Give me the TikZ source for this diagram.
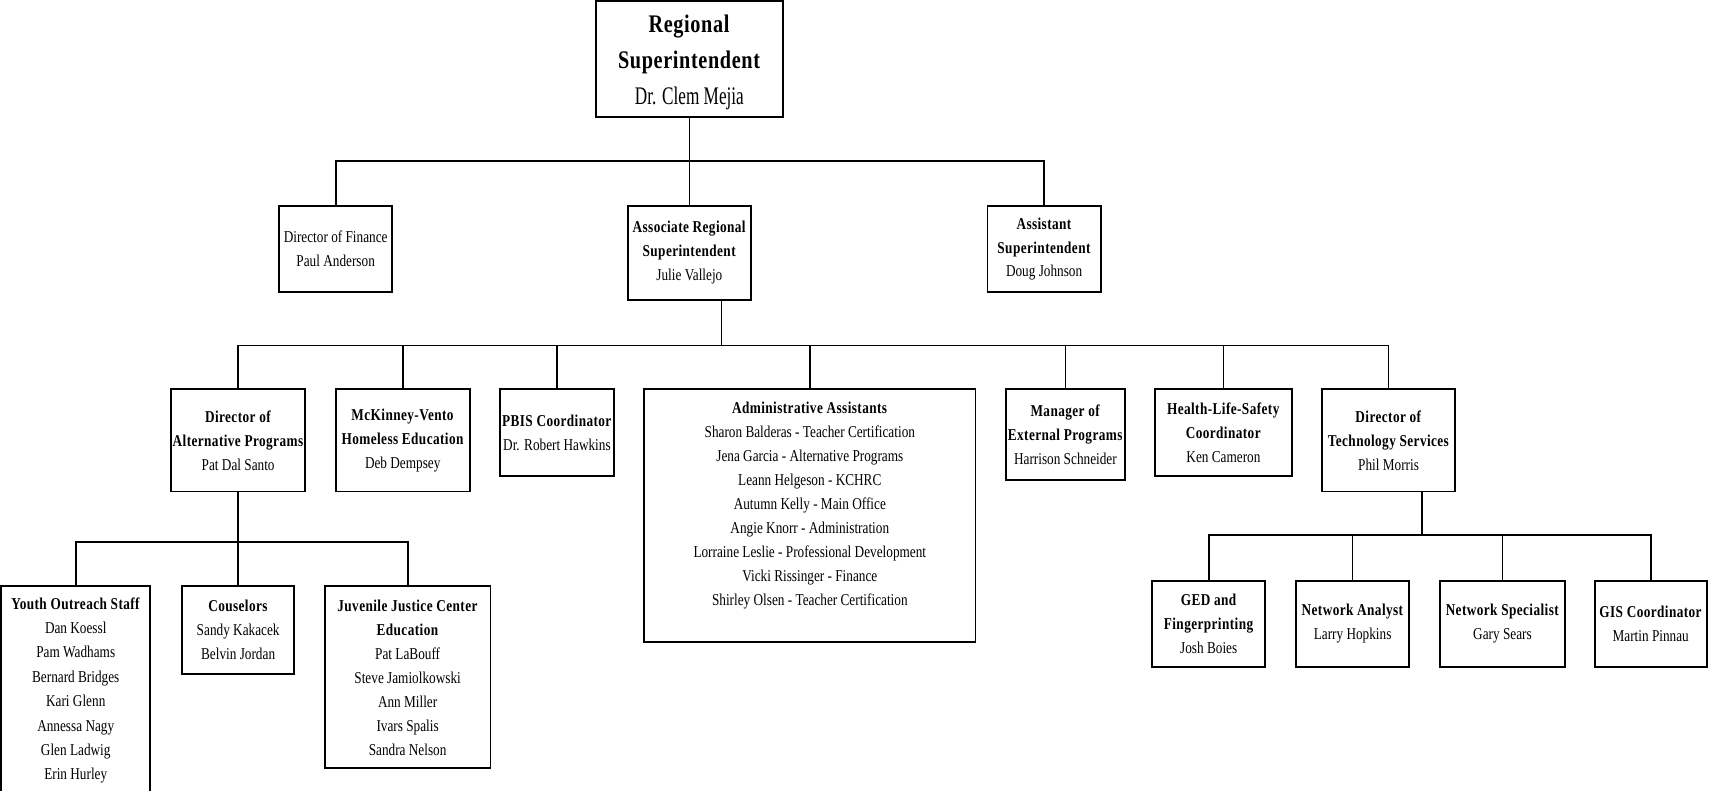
\documentclass[tikz,border=0pt]{standalone}
\usepackage{fontspec}
\setmainfont{Liberation Serif}[FakeStretch=0.8, BoldFeatures={LetterSpace=2.5}]
\newfontfamily\narrowserif{Liberation Serif}[FakeStretch=0.68]
\begin{document}
\begin{tikzpicture}[
    x=0.5pt, y=-0.5pt,
    orgbox/.style={draw, rectangle, align=center, inner sep=0pt, line width=0.85pt,
      font=\fontsize{7.6}{11}\selectfont},
    boxsize/.style 2 args={minimum width=0.5pt*#1, minimum height=0.5pt*#2},
    link/.style={line width=0.8pt}
    ]
    \useasboundingbox (0,0) rectangle (1568,725);

    % top
    \node[orgbox, boxsize={171}{106}, font=\fontsize{11.6}{16.5}\selectfont] (root) at (632.5,54)
      {\rule{0pt}{11pt}\textbf{Regional}\\ \textbf{Superintendent}\\ {\narrowserif Dr. Clem Mejia}};

    % second row
    \node[orgbox, boxsize={104}{79}] (fin) at (308,228.5) {Director of Finance\\ Paul Anderson};
    \node[orgbox, boxsize={113}{86}] (assoc) at (632.5,232)
      {\textbf{Associate Regional}\\ \textbf{Superintendent}\\ Julie Vallejo};
    \node[orgbox, boxsize={104}{79}] (asst) at (958,228.5)
      {\textbf{Assistant}\\ \textbf{Superintendent}\\ Doug Johnson};

    % third row
    \node[orgbox, boxsize={123}{94}] (alt) at (218.5,404)
      {\textbf{Director of}\\ \textbf{Alternative Programs}\\ Pat Dal Santo};
    \node[orgbox, boxsize={123}{94}] (mck) at (369.5,404)
      {\textbf{McKinney-Vento}\\ \textbf{Homeless Education}\\ Deb Dempsey};
    \node[orgbox, boxsize={104}{80}] (pbis) at (511,397)
      {\textbf{PBIS Coordinator}\\ Dr. Robert Hawkins};
    \node[orgbox, boxsize={304}{232}] (admin) at (743,473)
      {\textbf{Administrative Assistants}\\ Sharon Balderas - Teacher Certification\\
       Jena Garcia - Alternative Programs\\ Leann Helgeson - KCHRC\\ Autumn Kelly - Main Office\\
       Angie Knorr - Administration\\ Lorraine Leslie - Professional Development\\
       Vicki Rissinger - Finance\\ Shirley Olsen - Teacher Certification\\ \mbox{}};
    \node[orgbox, boxsize={109}{83}] (mgr) at (977.5,398.5)
      {\textbf{Manager of}\\ \textbf{External Programs}\\ Harrison Schneider};
    \node[orgbox, boxsize={125}{80}] (hls) at (1122.5,397)
      {\textbf{Health-Life-Safety}\\ \textbf{Coordinator}\\ Ken Cameron};
    \node[orgbox, boxsize={122}{94}] (tech) at (1274,404)
      {\textbf{Director of}\\ \textbf{Technology Services}\\ Phil Morris};

    % under alternative programs
    \node[orgbox, boxsize={137}{191}, font=\fontsize{7.6}{11.2}\selectfont] (youth) at (69.5,633.5)
      {\textbf{Youth Outreach Staff}\\ Dan Koessl\\ Pam Wadhams\\ Bernard Bridges\\ Kari Glenn\\
       Annessa Nagy\\ Glen Ladwig\\ Erin Hurley};
    \node[orgbox, boxsize={103}{80}] (cous) at (218.5,578)
      {\textbf{Couselors}\\ Sandy Kakacek\\ Belvin Jordan};
    \node[orgbox, boxsize={152}{167}] (juv) at (374,621.5)
      {\textbf{Juvenile Justice Center}\\ \textbf{Education}\\ Pat LaBouff\\ Steve Jamiolkowski\\
       Ann Miller\\ Ivars Spalis\\ Sandra Nelson};

    % under technology services
    \node[orgbox, boxsize={104}{79}] (ged) at (1109,572.5)
      {\textbf{GED and}\\ \textbf{Fingerprinting}\\ Josh Boies};
    \node[orgbox, boxsize={104}{79}] (na) at (1241,572.5)
      {\textbf{Network Analyst}\\ Larry Hopkins};
    \node[orgbox, boxsize={115}{79}] (ns) at (1378.5,572.5)
      {\textbf{Network Specialist}\\ Gary Sears};
    \node[orgbox, boxsize={103}{79}] (gis) at (1514.5,572.5)
      {\textbf{GIS Coordinator}\\ Martin Pinnau};

    % connectors
    \coordinate (bus1) at (632.5,148);
    \draw[link] (root.south) -- (bus1);
    \foreach \n in {fin,assoc,asst} \draw[link] (\n.north) |- (bus1);

    \coordinate (bus2) at (662,317);
    \draw[link] (assoc.south -| bus2) -- (bus2);
    \foreach \n in {alt,mck,pbis,admin,mgr,hls,tech} \draw[link] (\n.north) |- (bus2);

    \coordinate (bus3) at (218.5,497);
    \draw[link] (alt.south) -- (bus3);
    \foreach \n in {youth,cous,juv} \draw[link] (\n.north) |- (bus3);

    \coordinate (bus4) at (1305,491);
    \draw[link] (tech.south -| bus4) -- (bus4);
    \foreach \n in {ged,na,ns,gis} \draw[link] (\n.north) |- (bus4);
  \end{tikzpicture}
\end{document}
